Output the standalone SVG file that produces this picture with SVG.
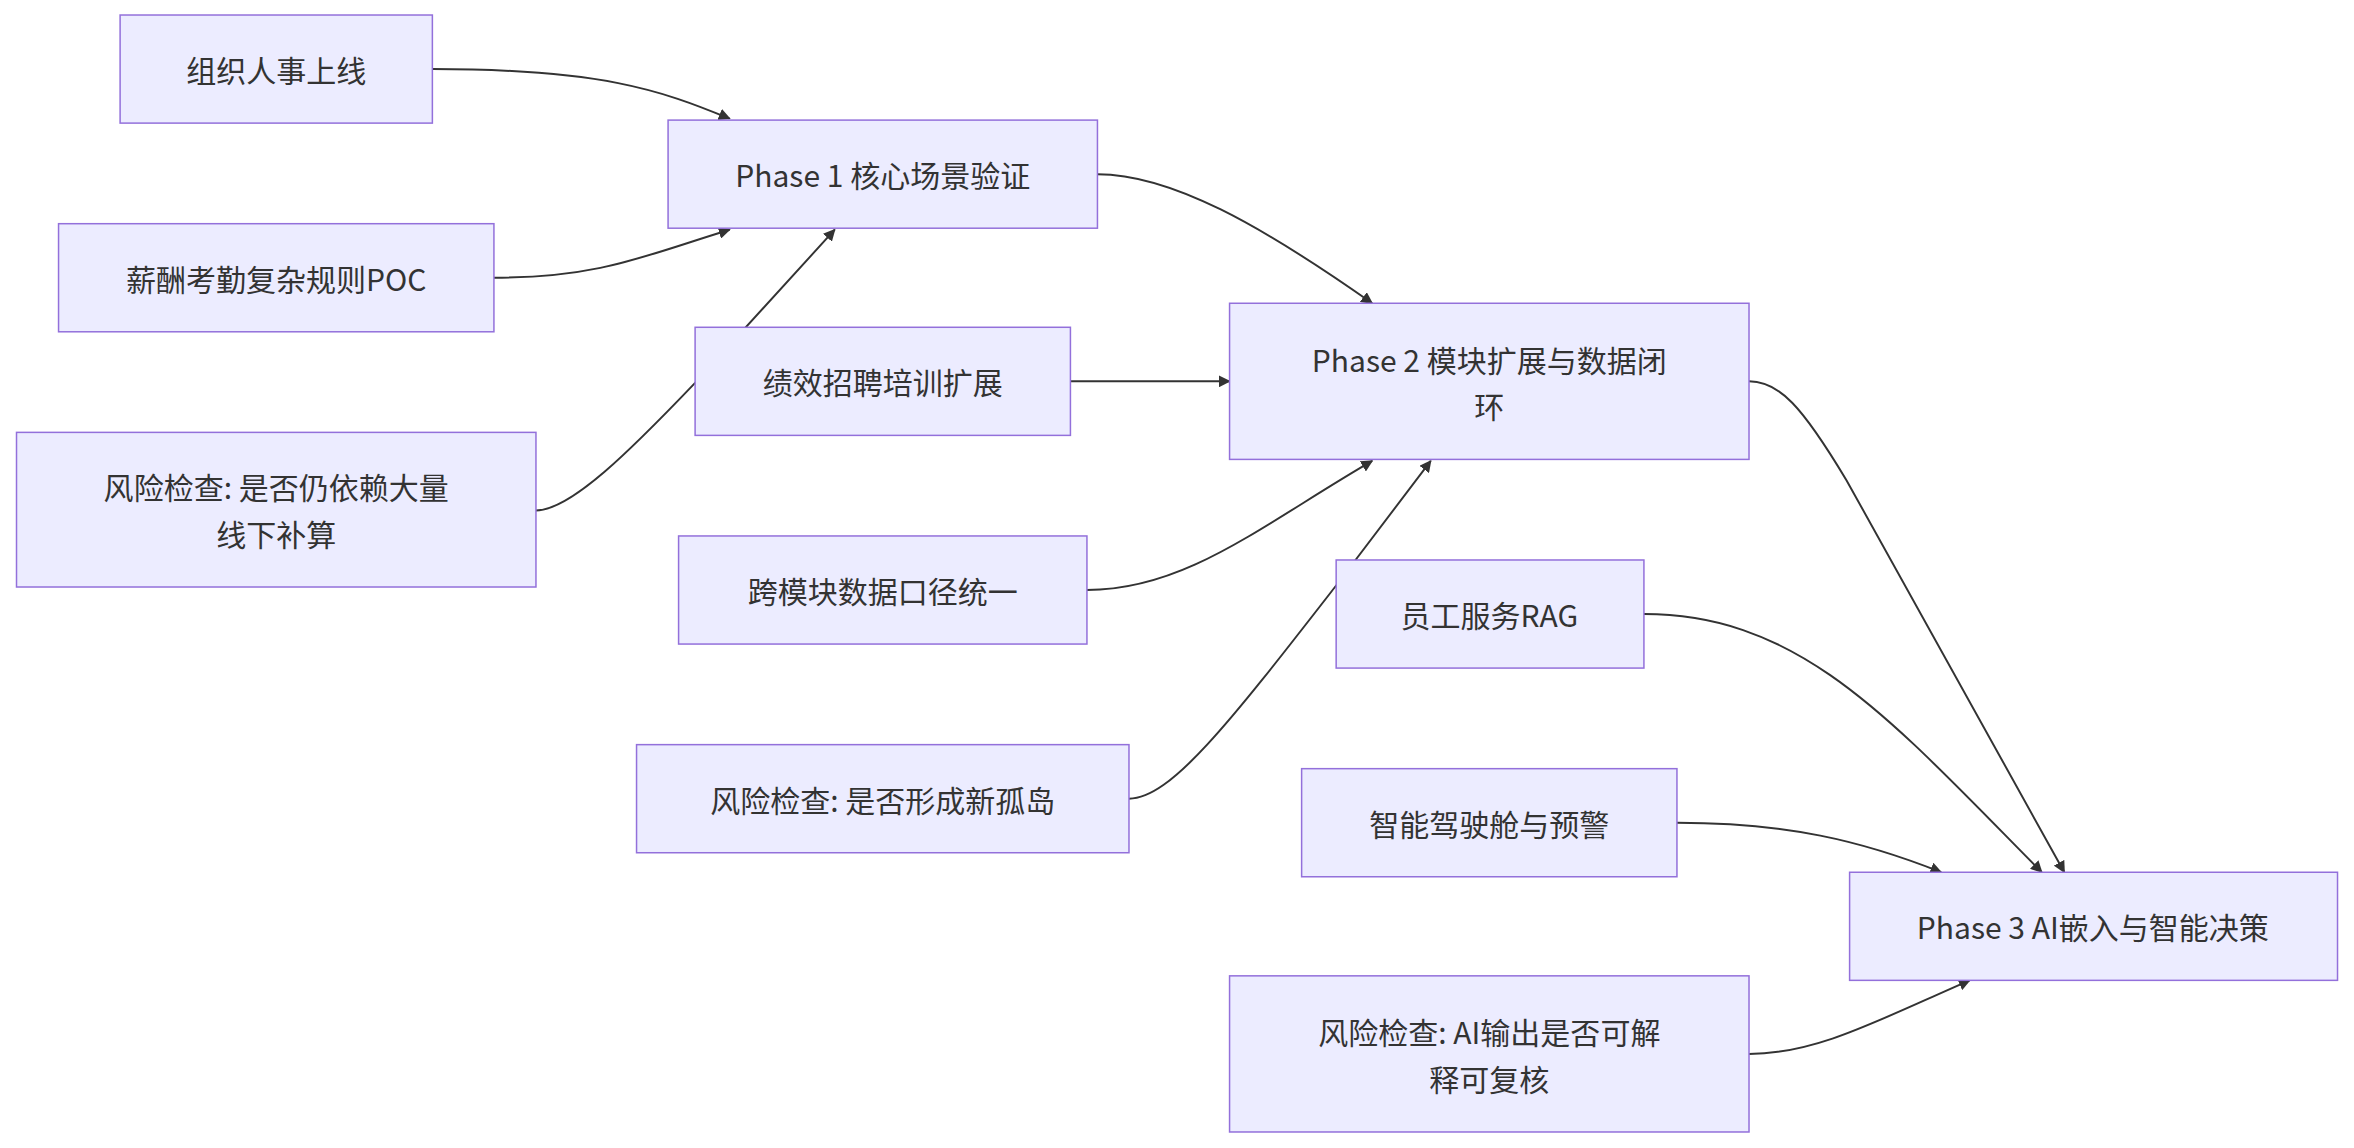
<svg xmlns="http://www.w3.org/2000/svg" width="2354" height="1148" viewBox="0 0 2354 1148">
<style>
.n rect{fill:#ECECFF;stroke:#9370DB;stroke-width:1}
.n text{font-family:"Noto Sans CJK SC","Liberation Sans",sans-serif;font-size:20px;fill:#333;text-anchor:middle;dominant-baseline:central}
.e path{fill:none;stroke:#333;stroke-width:1.3}
</style>
<defs><marker id="a" viewBox="0 0 10 10" refX="9" refY="5" markerWidth="8" markerHeight="8" markerUnits="userSpaceOnUse" orient="auto"><path d="M0,0L10,5L0,10z" fill="#333"/></marker></defs>
<rect width="2354" height="1148" fill="#fff"/>
<g transform="scale(1.5013)">
<g class="e">
<path marker-end="url(#a)" d="M288,46C400,46 440,60 486,79"/>
<path marker-end="url(#a)" d="M329,185C400,185 430,170 486,153"/>
<path marker-end="url(#a)" d="M357,340C380,340 420,300 463,255L556,153"/>
<path marker-end="url(#a)" d="M713,254L819,254"/>
<path marker-end="url(#a)" d="M731,116C780,116 840,150 914,202"/>
<path marker-end="url(#a)" d="M724,393C790,393 840,350 914,307"/>
<path marker-end="url(#a)" d="M752,532C780,532 820,480 890,390L953,307"/>
<path marker-end="url(#a)" d="M1165,254C1185,254 1200,270 1230,320L1375,581"/>
<path marker-end="url(#a)" d="M1095,409C1200,409 1260,480 1360,581"/>
<path marker-end="url(#a)" d="M1117,548C1190,548 1240,560 1293,581"/>
<path marker-end="url(#a)" d="M1165,702C1210,702 1250,680 1312,653"/>
</g>
<g id="n1" class="n"><rect x="80" y="10" width="208" height="72"/><text x="184" y="46">组织人事上线</text></g>
<g id="p1" class="n"><rect x="445" y="80" width="286" height="72"/><text x="588" y="116">Phase 1 核心场景验证</text></g>
<g id="n2" class="n"><rect x="39" y="149" width="290" height="72"/><text x="184" y="185">薪酬考勤复杂规则POC</text></g>
<g id="n3" class="n"><rect x="463" y="218" width="250" height="72"/><text x="588" y="254">绩效招聘培训扩展</text></g>
<g id="n4" class="n"><rect x="11" y="288" width="346" height="103"/><text x="184" y="324">风险检查: 是否仍依赖大量</text><text x="184" y="355">线下补算</text></g>
<g id="p2" class="n"><rect x="819" y="202" width="346" height="104"/><text x="992" y="239">Phase 2 模块扩展与数据闭</text><text x="992" y="270">环</text></g>
<g id="n5" class="n"><rect x="452" y="357" width="272" height="72"/><text x="588" y="393">跨模块数据口径统一</text></g>
<g id="n6" class="n"><rect x="890" y="373" width="205" height="72"/><text x="992" y="409">员工服务RAG</text></g>
<g id="n7" class="n"><rect x="424" y="496" width="328" height="72"/><text x="588" y="532">风险检查: 是否形成新孤岛</text></g>
<g id="n8" class="n"><rect x="867" y="512" width="250" height="72"/><text x="992" y="548">智能驾驶舱与预警</text></g>
<g id="p3" class="n"><rect x="1232" y="581" width="325" height="72"/><text x="1394" y="617">Phase 3 AI嵌入与智能决策</text></g>
<g id="n9" class="n"><rect x="819" y="650" width="346" height="104"/><text x="992" y="687">风险检查: AI输出是否可解</text><text x="992" y="718">释可复核</text></g>
</g>
</svg>
